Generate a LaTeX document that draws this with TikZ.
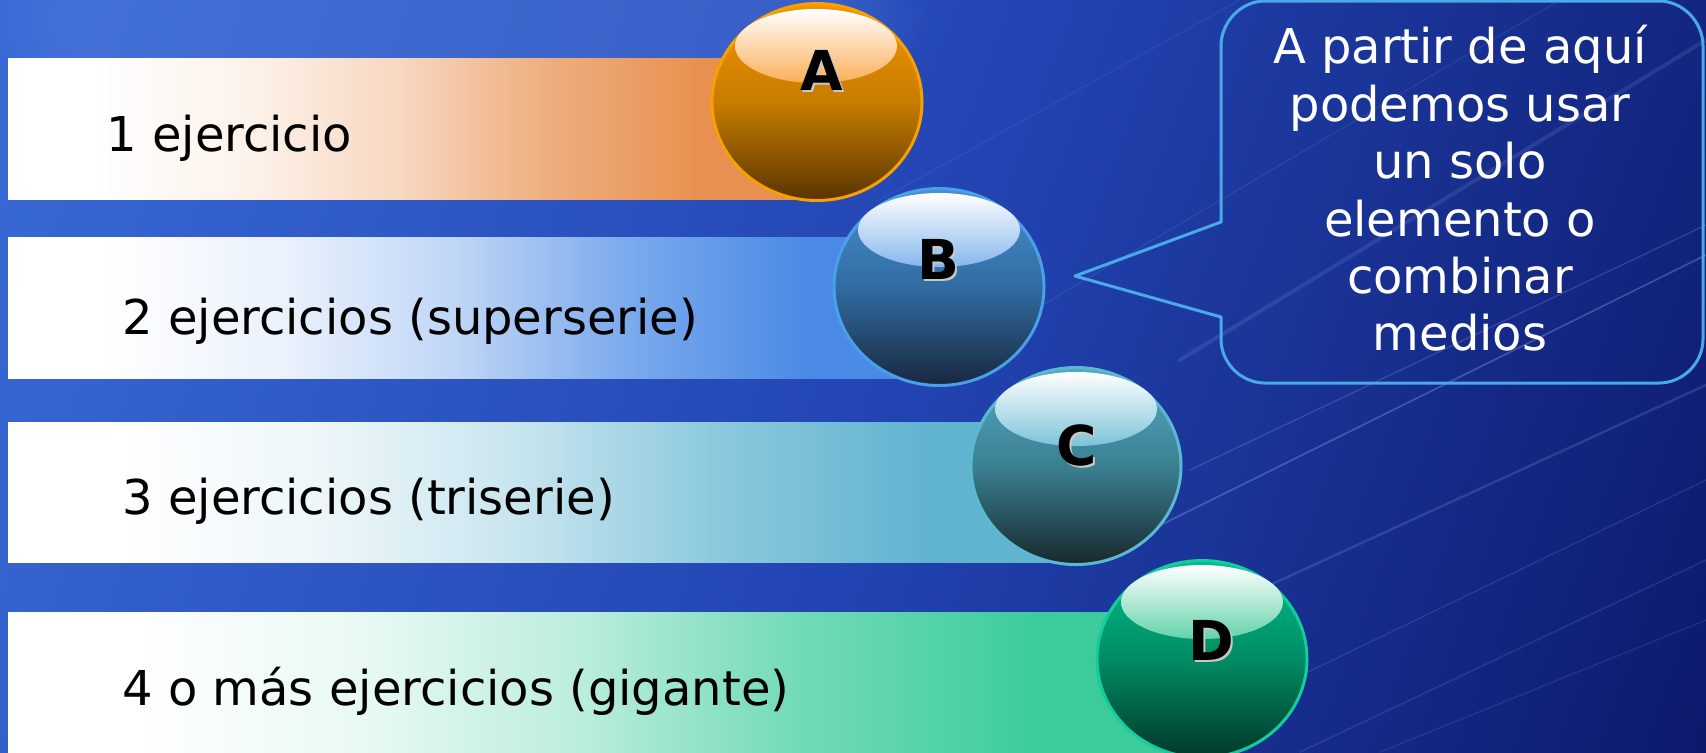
\documentclass[tikz,border=0pt]{standalone}
\usepackage{fontspec}
\setmainfont{DejaVu Sans}
\usetikzlibrary{shapes.geometric,fadings}

% background colours
\definecolor{bgA}{HTML}{3868D4}
\definecolor{bgB}{HTML}{2244B2}
\definecolor{bgC}{HTML}{0A1462}
\definecolor{glowc}{HTML}{5A82E0}
\definecolor{streakc}{HTML}{B8CCFF}
\pgfdeclarehorizontalshading{bgshade}{100bp}{color(0bp)=(bgA); color(20bp)=(bgA); color(52bp)=(bgB); color(86bp)=(bgC); color(100bp)=(bgC)}

% bar shadings
\newcommand\mkbarshade[2]{%
  \definecolor{bar#1}{HTML}{#2}%
  \colorlet{bar#1a}{bar#1!12!white}%
  \colorlet{bar#1b}{bar#1!35!white}%
  \colorlet{bar#1c}{bar#1!72!white}%
  \pgfdeclarehorizontalshading{barsh#1}{100bp}{color(0bp)=(white); color(30bp)=(white); color(40bp)=(bar#1a); color(49bp)=(bar#1b); color(58bp)=(bar#1c); color(68bp)=(bar#1); color(100bp)=(bar#1)}}
\mkbarshade{A}{E8904F}
\mkbarshade{B}{4A8AE6}
\mkbarshade{C}{60B4D0}
\mkbarshade{D}{3CCC9C}

% ball colours
\definecolor{ballAe}{HTML}{F7A000}\definecolor{ballAt}{HTML}{F29400}\definecolor{ballAm}{HTML}{C87C00}\definecolor{ballAb}{HTML}{583400}\definecolor{hlA}{HTML}{FCAE5A}
\definecolor{ballBe}{HTML}{4AA0E8}\definecolor{ballBt}{HTML}{4890D0}\definecolor{ballBm}{HTML}{306CA2}\definecolor{ballBb}{HTML}{18283F}\definecolor{hlB}{HTML}{86B6EC}
\definecolor{ballCe}{HTML}{5AB8D0}\definecolor{ballCt}{HTML}{55AAC4}\definecolor{ballCm}{HTML}{3A8092}\definecolor{ballCb}{HTML}{18282C}\definecolor{hlC}{HTML}{7CC4D8}
\definecolor{ballDe}{HTML}{14CC9E}\definecolor{ballDt}{HTML}{00BE8A}\definecolor{ballDm}{HTML}{008C64}\definecolor{ballDb}{HTML}{00382A}\definecolor{hlD}{HTML}{62D2AA}
\definecolor{callc}{HTML}{4AAAE8}
\definecolor{lshadow}{HTML}{C8C8C8}

\begin{document}
\begin{tikzpicture}[x=0.5pt, y=-0.5pt,
  ball/.style={ellipse, minimum width=105pt, minimum height=98.5pt, inner sep=0pt, line width=1.5pt},
  hilite/.style={ellipse, minimum width=81pt, minimum height=37pt, inner sep=0pt},
  letter/.style={inner sep=0pt, text=black, font=\fontsize{27.5}{30}\selectfont\bfseries},
  lettershadow/.style={inner sep=0pt, text=lshadow, font=\fontsize{27.5}{30}\selectfont\bfseries},
  lbl/.style={inner sep=0pt, anchor=base west, text=black, font=\fontsize{24}{28}\selectfont},
  calloutline/.style={draw=callc, line width=1.5pt, line join=round},
  callouttext/.style={inner sep=0pt, anchor=north, align=center, text=white, font=\fontsize{24}{28.7}\selectfont},
  streak/.style={draw=streakc, line cap=round}
]
\useasboundingbox (0,0) rectangle (1706,752);
\clip (0,0) rectangle (1706,752);

% background
\fill[shading=bgshade, shading angle=-20] (0,0) rectangle (1706,752);
\fill[glowc, opacity=0.35, path fading=circle with fuzzy edge 20 percent] (450,20) ellipse [x radius=480, y radius=150];

% streaks
\draw[streak, opacity=0.28, line width=0.8pt] (1080,565) -- (1706,255);
\draw[streak, opacity=0.20, line width=0.6pt] (1190,470) -- (1706,225);
\draw[streak, opacity=0.16, line width=1.2pt] (1150,640) -- (1706,385);
\draw[streak, opacity=0.14, line width=0.6pt] (1250,700) -- (1706,480);
\draw[streak, opacity=0.12, line width=2pt] (1180,360) -- (1706,40);
\draw[streak, opacity=0.10, line width=0.6pt] (1000,330) -- (1560,0);
\draw[streak, opacity=0.12, line width=0.8pt] (1300,752) -- (1706,560);
\draw[streak, opacity=0.08, line width=0.6pt] (880,200) -- (1240,0);
\draw[streak, opacity=0.12, line width=0.6pt] (1380,752) -- (1706,620);

% bars
\fill[shading=barshA] (8,58) rectangle (817,199);
\fill[shading=barshB] (8,237) rectangle (939,378);
\fill[shading=barshC] (8,422) rectangle (1076,562);
\fill[shading=barshD] (8,612) rectangle (1202,760);

\node[lbl] (t1) at (106,151) {1 ejercicio};
\node[lbl] (t2) at (122,334) {2 ejercicios (superserie)};
\node[lbl] (t3) at (122,514) {3 ejercicios (triserie)};
\node[lbl] (t4) at (122,705) {4 o más ejercicios (gigante)};

% balls
\node[ball, draw=ballAe, top color=ballAt, bottom color=ballAb, middle color=ballAm] (bA) at (817,102) {};
\node[hilite, top color=white, bottom color=hlA] (hA) at (816,46) {};
\node[lettershadow] (sA) at (824,72) {A};
\node[letter] (lA) at (822,70) {A};

\node[ball, draw=ballBe, top color=ballBt, bottom color=ballBb, middle color=ballBm] (bB) at (939,287) {};
\node[hilite, top color=white, bottom color=hlB] (hB) at (939,230) {};
\node[lettershadow] (sB) at (940,261) {B};
\node[letter] (lB) at (938,259) {B};

\node[ball, draw=ballCe, top color=ballCt, bottom color=ballCb, middle color=ballCm] (bC) at (1076,466) {};
\node[hilite, top color=white, bottom color=hlC] (hC) at (1076,409) {};
\node[lettershadow] (sC) at (1079,447) {C};
\node[letter] (lC) at (1077,445) {C};

\node[ball, draw=ballDe, top color=ballDt, bottom color=ballDb, middle color=ballDm] (bD) at (1202,659) {};
\node[hilite, top color=white, bottom color=hlD] (hD) at (1202,602) {};
\node[lettershadow] (sD) at (1213,642) {D};
\node[letter] (lD) at (1211,640) {D};

% callout
\draw[calloutline] (1221,222) -- (1221,46)
  .. controls (1221,22) and (1241,1) .. (1265,1) -- (1659,1)
  .. controls (1683,1) and (1703,22) .. (1703,46) -- (1703,339)
  .. controls (1703,363) and (1683,383) .. (1659,383) -- (1265,383)
  .. controls (1241,383) and (1221,363) .. (1221,339) -- (1221,317)
  -- (1075,276) -- cycle;
\node[callouttext] (ct) at (1460,25) {A partir de aquí\\podemos usar\\un solo\\elemento o\\combinar\\medios};
\end{tikzpicture}
\end{document}
